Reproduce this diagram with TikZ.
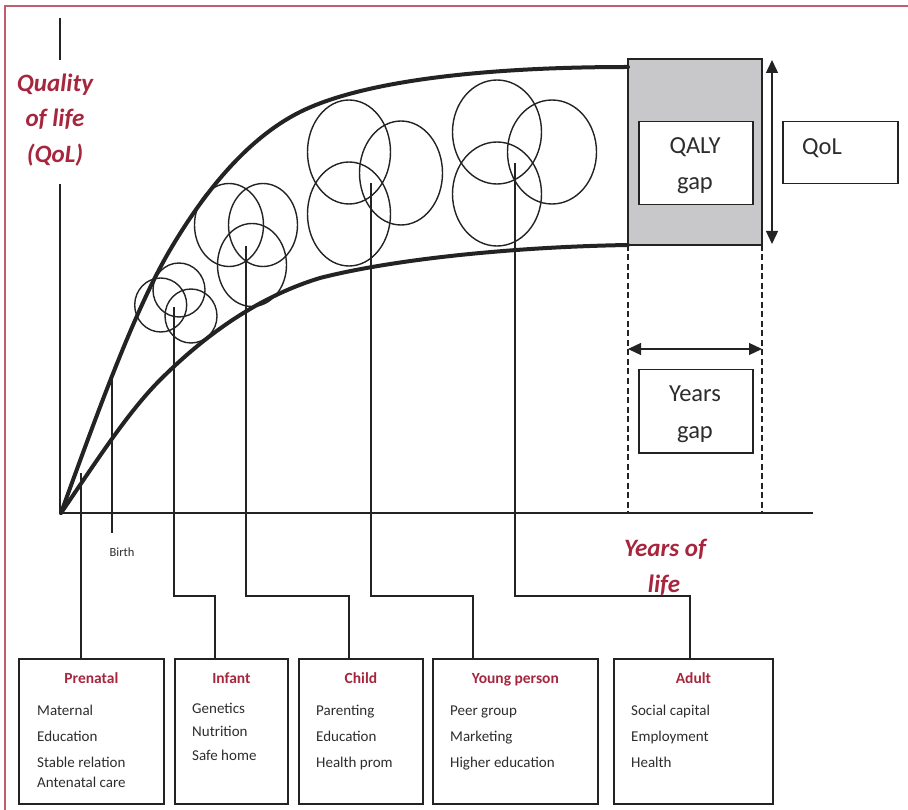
\documentclass[tikz,border=0pt]{standalone}
\usepackage{fontspec}
\setmainfont{Carlito}
\usetikzlibrary{arrows.meta}
\definecolor{qred}{RGB}{166,38,62}
\definecolor{framec}{RGB}{196,92,112}
\definecolor{ink}{RGB}{35,35,35}
\definecolor{txt}{RGB}{45,45,45}
\definecolor{qgray}{RGB}{200,200,202}
\begin{document}
\begin{tikzpicture}[x=1pt,y=-1pt,
  thick curve/.style={draw=ink,line width=4pt},
  ring/.style={draw=ink,line width=1.4pt},
  axisline/.style={draw=ink,line width=1.6pt},
  link/.style={draw=ink,line width=1.6pt},
  lbox/.style={draw=ink,line width=1.8pt,rectangle,inner sep=0pt,anchor=north west},
  gapbox/.style={draw=ink,line width=1.5pt,fill=white,rectangle,inner sep=0pt,anchor=north west},
  item/.style={anchor=base west,inner sep=0pt,text=txt,font=\fontsize{15}{18}\selectfont},
  ttl/.style={anchor=base,inner sep=0pt,text=qred,font=\fontsize{15.5}{18}\selectfont\bfseries},
  big/.style={anchor=base,inner sep=0pt,text=txt,font=\fontsize{24.5}{28}\selectfont},
  axlab/.style={anchor=base,inner sep=0pt,text=qred,font=\fontsize{25}{30}\selectfont\bfseries\itshape},
  dim/.style={draw=ink,line width=1.3pt,{Triangle[length=13pt,width=12pt]}-{Triangle[length=13pt,width=12pt]}},
  dashline/.style={draw=ink,line width=1.4pt,dash pattern=on 6pt off 3.5pt}
]
\useasboundingbox (0,0) rectangle (908,810);
% frame
\draw[framec,line width=1.4pt] (5,810) -- (5,6) -- (908,6);

% axes
\coordinate (O) at (61,513);
\coordinate (ytop) at (60,18);
\coordinate (ymid1) at (60,60);
\coordinate (ymid2) at (60,184);
\coordinate (xend) at (813,513);
\draw[axisline] (ytop) -- (ymid1);
\draw[axisline] (ymid2) -- (60,513) -- (xend);
\node[axlab] (q1) at (55,92) {Quality};
\node[axlab] (q2) at (55,127) {of life};
\node[axlab] (q3) at (55,163) {(QoL)};
\node[axlab] (y1) at (665,556) {Years of};
\node[axlab] (y2) at (664,592) {life};

% shaded QALY region
\fill[qgray] (628,59) rectangle (762,245);
\draw[ink,line width=1.2pt] (628,245) -- (628,59) -- (762,59) -- (762,245) -- cycle;

% curves
\draw[thick curve,line cap=round] (61,513) .. controls (97,414) and (134,311) .. (170,250)
  .. controls (213,177) and (257,133.5) .. (300,112)
  .. controls (360,82) and (478,67) .. (628,67);
\draw[thick curve,line cap=round] (61,513) .. controls (94,465) and (127,413) .. (160,380)
  .. controls (213,327) and (267,294) .. (320,278)
  .. controls (390,260) and (508,247) .. (628,245);

% circles
\draw[ring] (160.7,305) ellipse [x radius=26,y radius=27];
\draw[ring] (179,290) ellipse [x radius=26,y radius=27];
\draw[ring] (191,316) ellipse [x radius=26,y radius=27];
\draw[ring] (229,225) ellipse [x radius=34.5,y radius=41.5];
\draw[ring] (263,225) ellipse [x radius=34.5,y radius=41.5];
\draw[ring] (252,265) ellipse [x radius=34.5,y radius=41.5];
\draw[ring] (349,152) ellipse [x radius=41.5,y radius=52];
\draw[ring] (401,173) ellipse [x radius=41.5,y radius=52];
\draw[ring] (349,214) ellipse [x radius=41.5,y radius=52];
\draw[ring] (497,132) ellipse [x radius=44.5,y radius=52];
\draw[ring] (552,152) ellipse [x radius=44.5,y radius=52];
\draw[ring] (497,194) ellipse [x radius=44.5,y radius=52];

% dashed lines and gap arrows
\draw[dashline] (628,245) -- (628,513);
\draw[dashline] (762,245) -- (762,513);
\coordinate (va) at (772,60);
\coordinate (vb) at (772,244);
\draw[dim] (va) -- (vb);
\coordinate (ha) at (628,349);
\coordinate (hb) at (762,349);
\draw[dim] (ha) -- (hb);

\node[gapbox,minimum width=114pt,minimum height=83pt] (qaly) at (638,121) {};
\node[big] (qaly1) at (695,154) {QALY};
\node[big] (qaly2) at (695,190) {gap};
\node[gapbox,minimum width=115pt,minimum height=62pt] (qol) at (782,121) {};
\node[big] (qol1) at (822,155) {QoL};
\node[gapbox,minimum width=114pt,minimum height=83pt] (yrs) at (638,369) {};
\node[big] (yrs1) at (695,402) {Years};
\node[big] (yrs2) at (695,438) {gap};

% birth
\coordinate (b0) at (112,377);
\coordinate (b1) at (112,533);
\draw[link,line width=1.3pt] (b0) -- (b1);
\node[anchor=base,inner sep=0pt,text=txt,font=\fontsize{12.5}{14}\selectfont] (birth) at (122,556) {Birth};

% boxes
\node[lbox,minimum width=145pt,minimum height=145pt] (pre) at (18,658) {};
\node[lbox,minimum width=113pt,minimum height=145pt] (inf) at (174,658) {};
\node[lbox,minimum width=124pt,minimum height=145pt] (chd) at (298,658) {};
\node[lbox,minimum width=165pt,minimum height=145pt] (yng) at (432,658) {};
\node[lbox,minimum width=159pt,minimum height=145pt] (adt) at (613,658) {};

\node[ttl] (preT) at (pre.north |- 0,683) {Prenatal};
\node[ttl] (infT) at (inf.north |- 0,683) {Infant};
\node[ttl] (chdT) at (chd.north |- 0,683) {Child};
\node[ttl] (yngT) at (yng.north |- 0,683) {Young person};
\node[ttl] (adtT) at (adt.north |- 0,683) {Adult};

\node[item] (p1) at (37,715) {Maternal};
\node[item] (p2) at (37,741) {Education};
\node[item] (p3) at (37,767) {Stable relation};
\node[item] (p4) at (37,787) {Antenatal care};
\node[item] (i1) at (192,713) {Genetics};
\node[item] (i2) at (192,736) {Nutrition};
\node[item] (i3) at (192,760) {Safe home};
\node[item] (c1) at (316,715) {Parenting};
\node[item] (c2) at (316,741) {Education};
\node[item] (c3) at (316,767) {Health prom};
\node[item] (yp1) at (450,715) {Peer group};
\node[item] (yp2) at (450,741) {Marketing};
\node[item] (yp3) at (450,767) {Higher education};
\node[item] (a1) at (631,715) {Social capital};
\node[item] (a2) at (631,741) {Employment};
\node[item] (a3) at (631,767) {Health};

% connectors
\coordinate (s0) at (81,473);
\coordinate (s1) at (174,307);
\coordinate (s2) at (246,246);
\coordinate (s3) at (371,183);
\coordinate (s4) at (515,163);
\coordinate (j1) at (215,596);
\coordinate (j2) at (349,596);
\coordinate (j3) at (473,596);
\coordinate (j4) at (690,596);
\draw[link] (s0) -- (s0 |- pre.north);
\draw[link] (s1) |- (j1) -- (j1 |- inf.north);
\draw[link] (s2) |- (j2) -- (j2 |- chd.north);
\draw[link] (s3) |- (j3) -- (j3 |- yng.north);
\draw[link] (s4) |- (j4) -- (j4 |- adt.north);
\end{tikzpicture}
\end{document}
